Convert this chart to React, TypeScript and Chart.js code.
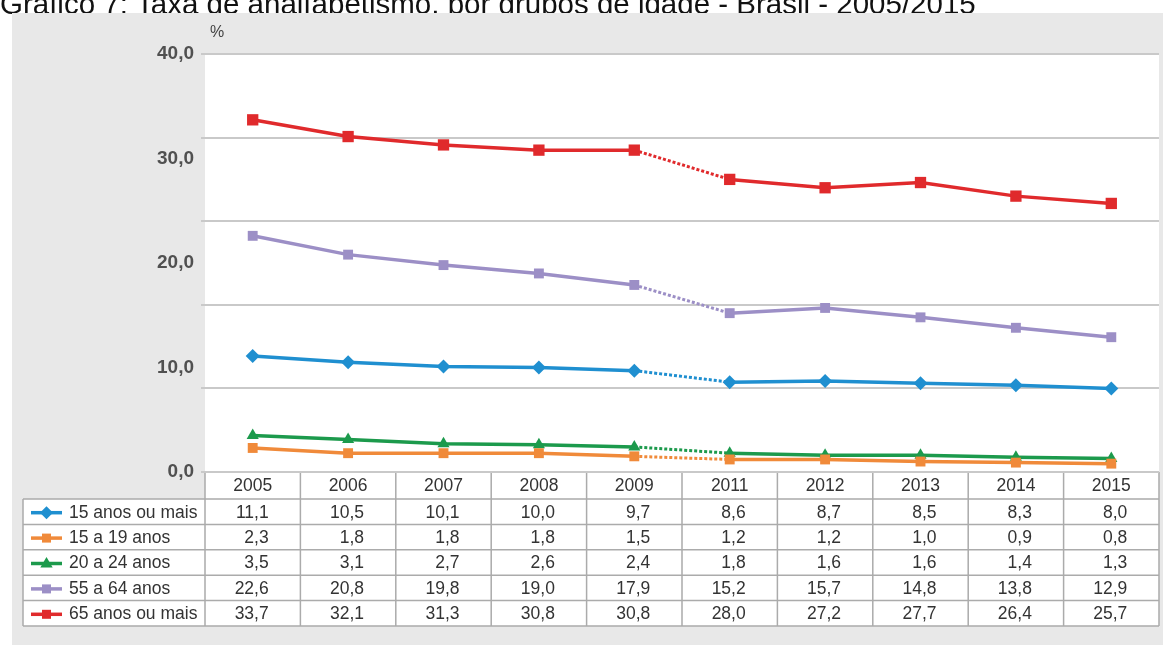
import React, { useEffect, useRef } from 'react';
import { Chart, registerables } from 'chart.js';

Chart.register(...registerables);

// ---- data ----
const years = ['2005', '2006', '2007', '2008', '2009', '2011', '2012', '2013', '2014', '2015'];
const groupNames = ['15 anos ou mais', '15 a 19 anos', '20 a 24 anos', '55 a 64 anos', '65 anos ou mais'];
const anos15OuMais = [11.1, 10.5, 10.1, 10.0, 9.7, 8.6, 8.7, 8.5, 8.3, 8.0];
const anos15a19 = [2.3, 1.8, 1.8, 1.8, 1.5, 1.2, 1.2, 1.0, 0.9, 0.8];
const anos20a24 = [3.5, 3.1, 2.7, 2.6, 2.4, 1.8, 1.6, 1.6, 1.4, 1.3];
const anos55a64 = [22.6, 20.8, 19.8, 19.0, 17.9, 15.2, 15.7, 14.8, 13.8, 12.9];
const anos65OuMais = [33.7, 32.1, 31.3, 30.8, 30.8, 28.0, 27.2, 27.7, 26.4, 25.7];
const yTickLabels = [0, 10, 20, 30, 40];
const gridValues = [0, 8, 16, 24, 32, 40];

const TITLE = 'Gráfico 7: Taxa de analfabetismo, por grupos de idade - Brasil - 2005/2015';

// ---- styling ----
const W = 1163; // visible page width
const CW = 1167; // canvas runs slightly past the page edge
const H = 657;
const FONT = '"Liberation Sans", Arial, Helvetica, sans-serif';
const seriesValues = [anos15OuMais, anos15a19, anos20a24, anos55a64, anos65OuMais];
const seriesColors = ['#1f8fd0', '#f08a3a', '#1c9a4c', '#9c8fc6', '#e02a2c'];
const seriesPoints = ['rectRot', 'rect', 'triangle', 'rect', 'rect'];
const seriesRadius = [7, 7, 7, 7, 8];
const GAP_INDEX = 4; // 2009 -> 2011 (no 2010 survey)

const PANEL = { x: 12, y: 13, bottom: 645 };
const HEADER_H = 27;
const ROW_H = 25.4;
const LABEL_COL_LEFT = 23;
const TABLE_LINE = '#ababab';
const TABLE_FONT = `17.5px ${FONT}`;

const fmt = (v: number) => v.toFixed(1).replace('.', ',');

function drawMarker(ctx: CanvasRenderingContext2D, style: string, x: number, y: number, r: number) {
  ctx.beginPath();
  if (style === 'rectRot') {
    ctx.moveTo(x - r, y);
    ctx.lineTo(x, y - r);
    ctx.lineTo(x + r, y);
    ctx.lineTo(x, y + r);
  } else if (style === 'triangle') {
    ctx.moveTo(x, y - r);
    ctx.lineTo(x + r * 0.95, y + r * 0.6);
    ctx.lineTo(x - r * 0.95, y + r * 0.6);
  } else {
    ctx.rect(x - r, y - r, 2 * r, 2 * r);
  }
  ctx.closePath();
  ctx.fill();
}

const backdropPlugin = {
  id: 'backdrop',
  beforeDraw(chart: any) {
    const { ctx, chartArea } = chart;
    const xs = chart.scales.x;
    ctx.save();
    ctx.fillStyle = '#ffffff';
    ctx.fillRect(0, 0, CW, H);

    // title (partly cut at the page top)
    ctx.fillStyle = '#111111';
    ctx.font = `29.5px ${FONT}`;
    ctx.textAlign = 'left';
    ctx.textBaseline = 'alphabetic';
    ctx.fillText(TITLE, 0, 14);

    // grey panel
    ctx.fillStyle = '#e8e8e8';
    ctx.fillRect(PANEL.x, PANEL.y, CW - PANEL.x, PANEL.bottom - PANEL.y);

    // white plot area
    ctx.fillStyle = '#ffffff';
    ctx.fillRect(chartArea.left, chartArea.top, chartArea.right - chartArea.left, chartArea.bottom - chartArea.top);

    // unit label
    ctx.fillStyle = '#444444';
    ctx.font = `16px ${FONT}`;
    ctx.textBaseline = 'middle';
    ctx.fillText('%', chartArea.left + 5, chartArea.top - 21);

    // data table
    const n = years.length;
    const colW = (chartArea.right - chartArea.left) / n;
    const top = chartArea.bottom;
    const rowsTop = top + HEADER_H;
    const bottom = rowsTop + ROW_H * groupNames.length;
    const left = chartArea.left;
    const right = chartArea.right;

    ctx.fillStyle = '#ffffff';
    ctx.fillRect(left, top, right - left, HEADER_H);
    ctx.fillRect(LABEL_COL_LEFT, rowsTop, right - LABEL_COL_LEFT, bottom - rowsTop);

    ctx.strokeStyle = TABLE_LINE;
    ctx.lineWidth = 1.5;
    ctx.beginPath();
    ctx.moveTo(left, top);
    ctx.lineTo(right, top);
    for (let r = 0; r <= groupNames.length; r++) {
      const y = rowsTop + r * ROW_H;
      ctx.moveTo(LABEL_COL_LEFT, y);
      ctx.lineTo(right, y);
    }
    ctx.moveTo(LABEL_COL_LEFT, rowsTop);
    ctx.lineTo(LABEL_COL_LEFT, bottom);
    for (let c = 0; c <= n; c++) {
      const x = left + c * colW;
      ctx.moveTo(x, top);
      ctx.lineTo(x, bottom);
    }
    ctx.stroke();

    // rows: legend key + values
    ctx.font = TABLE_FONT;
    ctx.textBaseline = 'middle';
    groupNames.forEach((name, r) => {
      const cy = rowsTop + r * ROW_H + ROW_H / 2 + 1;
      const color = seriesColors[r];
      ctx.strokeStyle = color;
      ctx.lineWidth = 3.5;
      ctx.beginPath();
      ctx.moveTo(31, cy);
      ctx.lineTo(62, cy);
      ctx.stroke();
      ctx.fillStyle = color;
      drawMarker(ctx, seriesPoints[r], 46.5, cy, seriesPoints[r] === 'rect' ? 4.5 : 6.5);

      ctx.fillStyle = '#333333';
      ctx.textAlign = 'left';
      ctx.fillText(name, 69, cy);

      ctx.textAlign = 'right';
      seriesValues[r].forEach((v, i) => {
        const cx = xs.getPixelForValue(i);
        ctx.fillText(fmt(v), cx + 16, cy);
      });
    });
    ctx.restore();
  },
};

export default function App() {
  const canvasRef = useRef<HTMLCanvasElement | null>(null);

  useEffect(() => {
    if (!canvasRef.current) return;
    const chart = new Chart(canvasRef.current, {
      type: 'line',
      data: {
        labels: years,
        datasets: groupNames.map((name, i) => ({
          label: name,
          data: seriesValues[i],
          borderColor: seriesColors[i],
          backgroundColor: seriesColors[i],
          borderWidth: 3.5,
          pointStyle: seriesPoints[i] as any,
          pointRadius: seriesRadius[i],
          pointBorderWidth: 0,
          tension: 0,
          segment: {
            borderDash: (c: any) => (c.p0DataIndex === GAP_INDEX ? [3, 2] : undefined),
            borderWidth: (c: any) => (c.p0DataIndex === GAP_INDEX ? 3 : undefined),
          },
        })),
      },
      options: {
        responsive: false,
        animation: false,
        layout: { padding: { top: 54, left: 0, right: 0, bottom: 0 } },
        plugins: {
          legend: { display: false },
          title: { display: false },
          tooltip: { enabled: false },
        },
        scales: {
          x: {
            type: 'category',
            offset: true,
            grid: { display: false, drawTicks: false },
            border: { display: false },
            ticks: {
              autoSkip: false,
              maxRotation: 0,
              padding: 4,
              color: '#333333',
              font: { family: FONT, size: 17.5 },
            },
            afterFit: (s: any) => {
              s.height = 185;
            },
          },
          y: {
            min: 0,
            max: 40,
            border: { display: false },
            grid: {
              color: (c: any) => (c.tick && gridValues.includes(c.tick.value) ? '#c9c9c9' : 'rgba(0,0,0,0)'),
              lineWidth: 2,
              tickLength: 4,
            },
            ticks: {
              stepSize: 2,
              autoSkip: false,
              padding: 7,
              color: '#505050',
              font: { family: FONT, size: 19, weight: 'bold' },
              callback: (v: any) => (yTickLabels.includes(Number(v)) ? fmt(Number(v)) : ''),
            },
            afterFit: (s: any) => {
              s.width = 205;
            },
          },
        },
      },
      plugins: [backdropPlugin],
    });
    return () => chart.destroy();
  }, []);

  return (
    <div style={{ position: 'absolute', left: 0, top: 0, width: W, height: H, overflow: 'hidden' }}>
      <canvas ref={canvasRef} width={CW} height={H} style={{ width: CW, height: H, display: 'block' }} />
    </div>
  );
}
